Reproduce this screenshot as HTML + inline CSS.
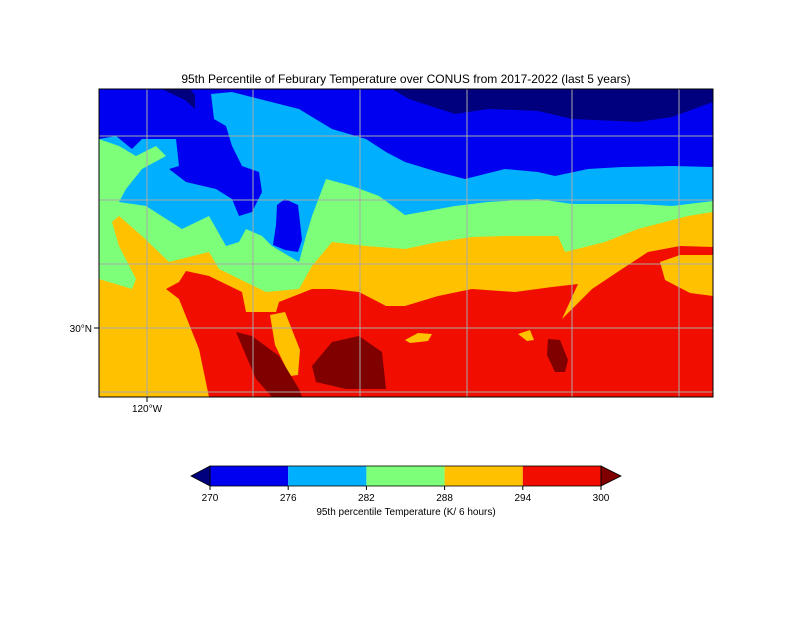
<!DOCTYPE html>
<html><head><meta charset="utf-8">
<style>
body{margin:0;background:#fff;font-family:"Liberation Sans",sans-serif;}
svg text{font-family:"Liberation Sans",sans-serif;}
</style></head>
<body>
<svg width="792" height="612" viewBox="0 0 792 612" xmlns="http://www.w3.org/2000/svg">
<text x="406" y="83" font-size="12" text-anchor="middle">95th Percentile of Feburary Temperature over CONUS from 2017-2022 (last 5 years)</text>
<defs><clipPath id="mapclip"><rect x="99" y="89" width="614" height="308"/></clipPath></defs>
<g clip-path="url(#mapclip)">
<rect x="99" y="89" width="614" height="308" fill="#f10d00"/>
<polygon fill="#ffc100" points="99,89 99,397 209,397 199,349 179,299 166,289 179,282 186,271 209,276 242,292 246,312 276,312 279,302 312,289 332,289 359,292 386,306 405,306 438,296 472,289 515,292 552,287 578,284 562,319 592,289 622,269 648,252 680,246 713,247 713,89"/>
<polygon fill="#ffc100" points="660,262 680,255 713,255 713,296 690,293 665,280"/>
<polygon fill="#ffc100" points="270,315 285,312 300,350 298,375 290,376 275,345"/>
<polygon fill="#ffc100" points="405,340 418,333 432,334 428,341 410,343"/>
<polygon fill="#ffc100" points="518,334 530,330 534,340 527,341"/>
<polygon fill="#7dff7a" points="99,89 99,279 132,289 136,279 119,246 112,222 119,216 142,236 169,262 209,252 219,269 266,292 299,289 312,266 332,242 366,246 405,249 438,242 472,237 505,236 558,236 565,252 605,242 638,229 688,216 713,212 713,89"/>
<polygon fill="#00b0ff" points="99,89 99,139 119,146 136,156 156,146 166,156 142,169 126,189 119,202 146,206 182,229 209,216 226,246 239,242 246,229 262,236 272,246 299,262 306,236 312,216 326,179 352,186 379,196 405,215 455,206 488,202 538,199 572,204 605,204 638,204 672,206 713,201 713,89"/>
<polygon fill="#0000f0" points="99,89 99,139 116,136 132,149 142,139 176,139 179,166 169,169 186,182 216,189 232,199 239,216 252,212 262,192 259,172 242,166 232,146 226,126 214,119 211,94 232,92 299,109 332,129 366,139 386,152 405,162 438,172 465,179 505,169 538,172 555,176 588,169 622,167 672,166 713,167 713,89"/>
<polygon fill="#0000f0" points="277,205 285,199 298,205 302,240 298,252 285,250 273,245 276,225"/>
<polygon fill="#00007f" points="392,89 409,99 455,114 488,109 538,111 572,119 638,122 672,117 713,102 713,89"/>
<polygon fill="#00007f" points="162,89 172,94 185,100 195,109 195,95 190,89"/>
<polygon fill="#800000" points="236,332 252,336 279,356 299,389 302,397 272,397 256,379"/>
<polygon fill="#800000" points="312,366 332,342 359,336 382,352 386,389 346,389 316,382"/>
<polygon fill="#800000" points="548,339 560,340 568,360 565,372 555,372 547,355"/>
<g stroke="#aaaaaa" stroke-width="1">
<line x1="147" y1="89" x2="147" y2="397"/><line x1="253" y1="89" x2="253" y2="397"/>
<line x1="360" y1="89" x2="360" y2="397"/><line x1="467" y1="89" x2="467" y2="397"/>
<line x1="572" y1="89" x2="572" y2="397"/><line x1="679" y1="89" x2="679" y2="397"/>
<line x1="99" y1="136" x2="713" y2="136"/><line x1="99" y1="200" x2="713" y2="200"/>
<line x1="99" y1="264" x2="713" y2="264"/><line x1="99" y1="328" x2="713" y2="328"/>
<line x1="99" y1="392" x2="713" y2="392"/>
</g>
</g>
<rect x="99" y="89" width="614" height="308" fill="none" stroke="#000" stroke-width="1"/>
<line x1="94" y1="328" x2="99" y2="328" stroke="#000"/>
<text x="92" y="332" font-size="10" text-anchor="end">30°N</text>
<line x1="147" y1="397" x2="147" y2="402" stroke="#000"/>
<text x="147" y="412" font-size="10" text-anchor="middle">120°W</text>
<g id="cbar"></g>
<text x="406" y="515" font-size="10" text-anchor="middle">95th percentile Temperature (K/ 6 hours)</text>
</svg>
<script>
const levels=[270,276,282,288,294,300];
const colors=["#0000f0","#00b0ff","#7dff7a","#ffc100","#f10d00"];
const ns="http://www.w3.org/2000/svg";
const g=document.getElementById('cbar');
const x0=210,x1=601,y0=466,y1=486;
const sx=v=>x0+(v-levels[0])/(levels[levels.length-1]-levels[0])*(x1-x0);
for(let i=0;i<colors.length;i++){
 const r=document.createElementNS(ns,'rect');
 r.setAttribute('x',sx(levels[i]));r.setAttribute('y',y0);
 r.setAttribute('width',sx(levels[i+1])-sx(levels[i]));r.setAttribute('height',y1-y0);
 r.setAttribute('fill',colors[i]);
 
 
 g.appendChild(r);
}
const lt=document.createElementNS(ns,'polygon');
lt.setAttribute('points',`${x0},${y0} ${x0-19},${(y0+y1)/2} ${x0},${y1}`);
lt.setAttribute('fill','#00007f');lt.setAttribute('stroke','#000');lt.setAttribute('stroke-width','0.8');


g.appendChild(lt);
const rt=document.createElementNS(ns,'polygon');
rt.setAttribute('points',`${x1},${y0} ${x1+20},${(y0+y1)/2} ${x1},${y1}`);
rt.setAttribute('fill','#800000');rt.setAttribute('stroke','#000');rt.setAttribute('stroke-width','0.8');


g.appendChild(rt);
const fr=document.createElementNS(ns,'rect');
fr.setAttribute('x',x0);fr.setAttribute('y',y0);fr.setAttribute('width',x1-x0);fr.setAttribute('height',y1-y0);
fr.setAttribute('fill','none');fr.setAttribute('stroke','#000');fr.setAttribute('stroke-width','0.8');


g.appendChild(fr);
levels.forEach(v=>{
 const l=document.createElementNS(ns,'line');
 l.setAttribute('x1',sx(v));l.setAttribute('x2',sx(v));l.setAttribute('y1',y1);l.setAttribute('y2',y1+4);
 l.setAttribute('stroke','#000');
 
 
 g.appendChild(l);
 const t=document.createElementNS(ns,'text');
 t.setAttribute('x',sx(v));t.setAttribute('y',y1+15);t.setAttribute('font-size','10');t.setAttribute('text-anchor','middle');
 t.textContent=v;
 
 
 g.appendChild(t);
});
</script>
</body></html>
